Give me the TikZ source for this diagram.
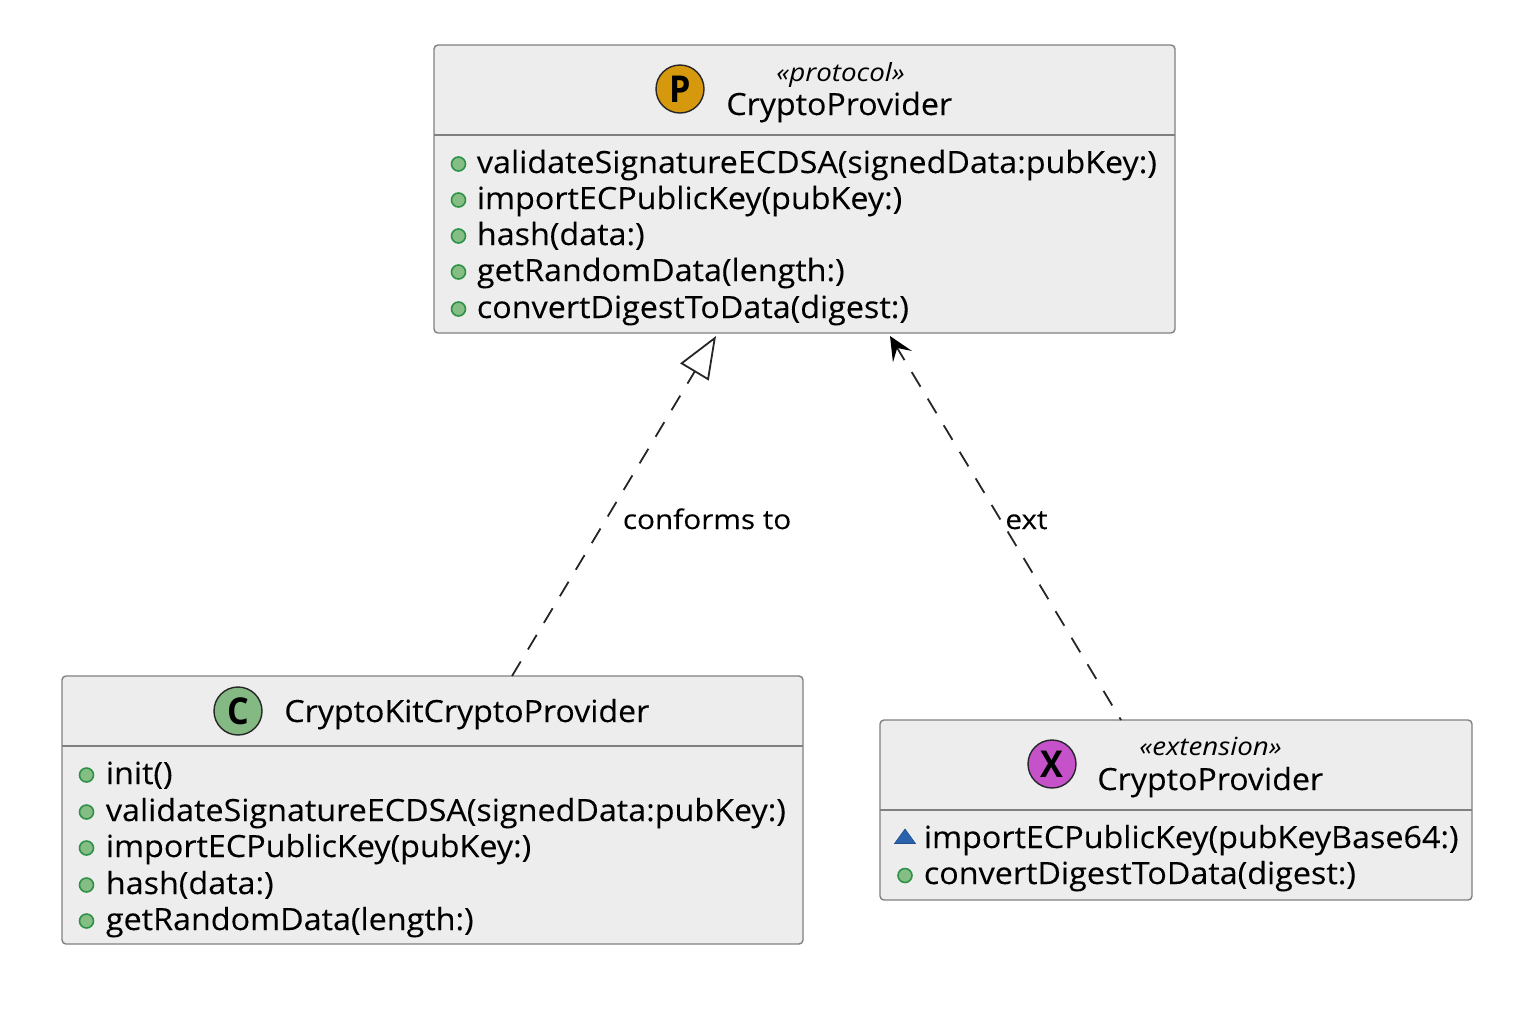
\documentclass[tikz,border=0pt]{standalone}
\usepackage{fontspec}
\setmainfont{Open Sans}
\newfontfamily\memberfont[FakeStretch=1.055,FakeBold=0.12]{Open Sans}
\newfontfamily\titlefont[FakeStretch=1.05,FakeBold=0.12]{Open Sans}
\newfontfamily\stereofont[FakeStretch=1.11]{Open Sans}
\newfontfamily\labelfont[FakeStretch=1.1,FakeBold=0.12]{Open Sans}
\newfontfamily\badgefont[FakeStretch=0.92]{Open Sans}
\usetikzlibrary{arrows.meta,calc}
\definecolor{boxgray}{HTML}{EDEDED}
\definecolor{pubdraw}{HTML}{2F9148}
\definecolor{pubfill}{HTML}{84BE84}
\definecolor{pkgblue}{HTML}{2A62AE}
\definecolor{pcol}{HTML}{D6980C}
\definecolor{ccol}{HTML}{84B984}
\definecolor{xcol}{HTML}{C552C9}
\tikzset{
  x=0.5pt,y=-0.5pt,
  classbox/.style={draw=black!50,line width=0.7pt,fill=boxgray,rounded corners=2pt,inner sep=0,outer sep=0},
  sepline/.style={draw=black!50,line width=0.7pt},
  badge/.style={circle,draw=black!85,line width=0.7pt,minimum size=24pt,inner sep=0,font=\fontsize{18.5}{18.5}\badgefont\bfseries},
  member/.style={anchor=base west,inner sep=0,font=\fontsize{15.3}{15.3}\memberfont,text=black},
  title/.style={anchor=base west,inner sep=0,font=\fontsize{15.3}{15.3}\titlefont,text=black},
  stereo/.style={anchor=base west,inner sep=0,font=\fontsize{12.5}{12.5}\stereofont\itshape,text=black},
  edgelabel/.style={anchor=base west,inner sep=0,font=\fontsize{13.5}{13.5}\labelfont,text=black},
  pub/.style={circle,draw=pubdraw,fill=pubfill,line width=0.8pt,minimum size=7pt,inner sep=0},
  pkgtri/.style={fill=pkgblue,draw=pkgblue!80!black,line width=0.3pt},
  depline/.style={draw=black!85,line width=0.9pt,dash pattern=on 8.5pt off 7pt},
}
\begin{document}
\begin{tikzpicture}
\useasboundingbox (0,0) rectangle (1514,1008);
% boxes
\node[classbox,minimum width=370.5pt,minimum height=144pt] (proto) at (804.5,189) {};
\node[classbox,minimum width=370.5pt,minimum height=134pt] (kit) at (432.5,810) {};
\node[classbox,minimum width=296pt,minimum height=90pt] (ext) at (1176,810) {};
\draw[sepline] ($(proto.north west)+(0,90)$) -- ($(proto.north east)+(0,90)$);
\draw[sepline] ($(kit.north west)+(0,70)$) -- ($(kit.north east)+(0,70)$);
\draw[sepline] ($(ext.north west)+(0,90)$) -- ($(ext.north east)+(0,90)$);
% proto
\node[badge,fill=pcol] (pb) at (680,89) {P};
\node[stereo] (ps) at (776,81) {«protocol»};
\node[title] (pt) at (726,115) {CryptoProvider};
\foreach \n/\y/\t in {p1/173/validateSignatureECDSA(signedData:pubKey:),p2/209/importECPublicKey(pubKey:),p3/245/hash(data:),p4/281/getRandomData(length:),p5/318/convertDigestToData(digest:)}{
  \node[member] (\n) at (476.5,\y) {\t};
  \node[pub] (\n b) at (458.5,\y-9) {};
}
% kit
\node[badge,fill=ccol] (kb) at (238,711) {C};
\node[title] (kt) at (284,722) {CryptoKitCryptoProvider};
\foreach \n/\y/\t in {k1/784/init(),k2/821/validateSignatureECDSA(signedData:pubKey:),k3/857/importECPublicKey(pubKey:),k4/894/hash(data:),k5/930/getRandomData(length:)}{
  \node[member] (\n) at (105.5,\y) {\t};
  \node[pub] (\n b) at (86.5,\y-9) {};
}
% ext
\node[badge,fill=xcol] (xb) at (1052,764) {X};
\node[stereo] (xs) at (1139,755) {«extension»};
\node[title] (xt) at (1097,790) {CryptoProvider};
\node[member] (x1) at (923.5,848) {importECPublicKey(pubKeyBase64:)};
\node[member] (x2) at (923.5,884) {convertDigestToData(digest:)};
\node[pub] (x2b) at (905,875.5) {};
\fill[pkgtri] (905,829) -- (915.5,843.5) -- (894.5,843.5) -- cycle;
% connectors
\coordinate (kitout) at ($(kit.north)+(79.5,0)$);
\coordinate (protoinA) at ($(proto.south)+(-88.5,3)$);
\coordinate (extout) at ($(ext.north)+(-55,0)$);
\coordinate (protoinB) at ($(proto.south)+(85.5,3)$);
\draw[depline,-{Triangle[open,length=21pt,width=16.5pt,fill=white,line width=0.9pt]}] (kitout) -- (protoinA);
\draw[depline,dash phase=7pt,-{Stealth[length=12pt,width=11pt,inset=5pt,color=black]}] (extout) -- (protoinB);
\node[edgelabel] (l1) at (622.5,529) {conforms to};
\node[edgelabel] (l2) at (1005,529) {ext};
\end{tikzpicture}
\end{document}
